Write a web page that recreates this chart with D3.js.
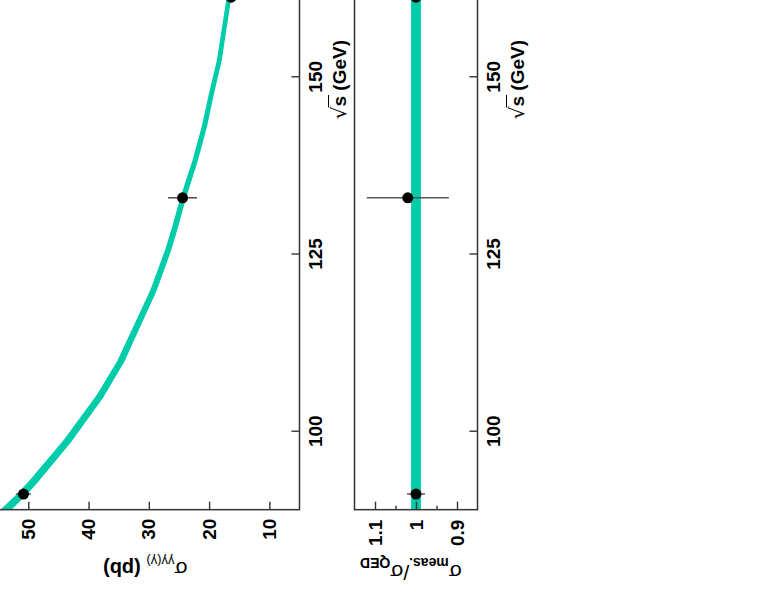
<!DOCTYPE html>
<html><head><meta charset="utf-8">
<script src="https://cdn.jsdelivr.net/npm/d3@7"></script>
<style>html,body{margin:0;padding:0;background:#fff;overflow:hidden}svg{display:block}</style>
</head><body>
<svg id="c" width="765" height="592"></svg>
<script>
// ---- data ----
const energies   = [91.2, 133, 161.3];
const sigmaMeas  = [50.8, 24.4, 16.35];
const sigmaErr   = [1.25, 2.4, 1.0];
const ratioMeas  = [1.0, 1.02, 1.0];
const ratioErr   = [0.022, 0.10, 0.06];
const curveE     = [89, 91.2, 93.2, 98.8, 105, 110, 115, 120, 125.6, 129, 133, 138.3, 143, 147.7, 152.4, 161.3];
const curveSigma = [53.7, 51.0, 48.9, 43.4, 38.1, 34.6, 31.9, 29.2, 26.8, 25.6, 24.3, 22.3, 20.8, 19.6, 18.3, 16.7];
const bandRel    = 0.012;
const sqrtsTicks = [100, 125, 150];
const sigmaTicks = [10, 20, 30, 40, 50];
const ratioTicks = [0.9, 1, 1.1];
const ratioMinor = [0.95, 1.05];
const ratioTickLabels = ["0.9", "1", "1.1"];

// ---- layout (chart drawn upright, then rotated -90deg) ----
const W = 592; // unrotated width (= page height)
const svg = d3.select("#c");
svg.append("rect").attr("width",765).attr("height",592).attr("fill","#fff");
const root = svg.append("g").attr("transform", `translate(0,${W}) rotate(-90)`);

const x = d3.scaleLinear().domain([100,150]).range([160.3,514.7]);
const yTop = d3.scaleLinear().domain([5,55]).range([299.5,-1.85]);
const yRat = d3.scaleLinear().domain([0.85,1.15]).range([477.5,354.5]);
const xMin = 89, xMax = 175;
const FONT = "'Liberation Sans', Arial, Helvetica, sans-serif";
const AX = "#333";
const BAND = "#00CCAA";

const defs = root.append("defs");
defs.append("clipPath").attr("id","clipTop").append("rect")
  .attr("x", x(xMin)).attr("y", yTop(55)).attr("width", x(xMax)-x(xMin)).attr("height", yTop(5)-yTop(55));
defs.append("clipPath").attr("id","clipRat").append("rect")
  .attr("x", x(xMin)).attr("y", yRat(1.15)).attr("width", x(xMax)-x(xMin)).attr("height", yRat(0.85)-yRat(1.15));

// ---- top panel ----
const topG = root.append("g");
const curve = curveE.map((e,i)=>({e, s: curveSigma[i]}));
topG.append("path").datum(curve).attr("clip-path","url(#clipTop)")
  .attr("fill", BAND).attr("stroke", BAND).attr("stroke-width", 2.2).attr("stroke-linejoin","round")
  .attr("d", d3.area().x(d=>x(d.e)).y0(d=>yTop(d.s*(1-bandRel))).y1(d=>yTop(d.s*(1+bandRel))));

const pts = energies.map((e,i)=>({e, s: sigmaMeas[i], se: sigmaErr[i], r: ratioMeas[i], re: ratioErr[i]}));
const tp = topG.append("g").attr("clip-path","url(#clipTop)");
tp.selectAll("line").data(pts).join("line")
  .attr("x1", d=>x(d.e)).attr("x2", d=>x(d.e))
  .attr("y1", d=>yTop(d.s-d.se)).attr("y2", d=>yTop(d.s+d.se))
  .attr("stroke","#555").attr("stroke-width",1.6);
tp.selectAll("circle").data(pts).join("circle")
  .attr("cx", d=>x(d.e)).attr("cy", d=>yTop(d.s)).attr("r",5.5).attr("fill","#000");

topG.append("rect").attr("x", x(xMin)).attr("y", yTop(55)).attr("width", x(xMax)-x(xMin)).attr("height", yTop(5)-yTop(55))
  .attr("fill","none").attr("stroke",AX).attr("stroke-width",1.5);

function styleAxis(g){
  g.select(".domain").remove();
  g.selectAll(".tick line").attr("stroke",AX).attr("stroke-width",1.4);
  g.selectAll(".tick text").attr("font-family",FONT).attr("font-weight","bold").attr("font-size",19).attr("fill","#000");
}
topG.append("g").attr("transform",`translate(0,${yTop(5)})`)
  .call(d3.axisBottom(x).tickValues(sqrtsTicks).tickSizeInner(-8).tickSizeOuter(0).tickPadding(9).tickFormat(d3.format("d")))
  .call(styleAxis);
topG.append("g").attr("transform",`translate(${x(xMin)},0)`)
  .call(d3.axisLeft(yTop).tickValues(sigmaTicks).tickSizeInner(-8).tickSizeOuter(0).tickPadding(9).tickFormat(d3.format("d")))
  .call(styleAxis);

// ---- ratio panel ----
const ratG = root.append("g");
const flat = curveE.map(e=>({e}));
ratG.append("path").datum(flat).attr("clip-path","url(#clipRat)").attr("fill",BAND)
  .attr("d", d3.area().x(d=>x(d.e)).y0(()=>yRat(1-bandRel)).y1(()=>yRat(1+bandRel)));
const rp = ratG.append("g").attr("clip-path","url(#clipRat)");
rp.selectAll("line").data(pts).join("line")
  .attr("x1", d=>x(d.e)).attr("x2", d=>x(d.e))
  .attr("y1", d=>yRat(d.r-d.re)).attr("y2", d=>yRat(d.r+d.re))
  .attr("stroke","#555").attr("stroke-width",1.6);
rp.selectAll("circle").data(pts).join("circle")
  .attr("cx", d=>x(d.e)).attr("cy", d=>yRat(d.r)).attr("r",5.5).attr("fill","#000");
ratG.append("rect").attr("x", x(xMin)).attr("y", yRat(1.15)).attr("width", x(xMax)-x(xMin)).attr("height", yRat(0.85)-yRat(1.15))
  .attr("fill","none").attr("stroke",AX).attr("stroke-width",1.5);
ratG.append("g").attr("transform",`translate(0,${yRat(0.85)})`)
  .call(d3.axisBottom(x).tickValues(sqrtsTicks).tickSizeInner(-8).tickSizeOuter(0).tickPadding(9).tickFormat(d3.format("d")))
  .call(styleAxis);
ratG.append("g").attr("transform",`translate(${x(xMin)},0)`)
  .call(d3.axisLeft(yRat).tickValues(ratioTicks).tickSizeInner(-8).tickSizeOuter(0).tickPadding(10).tickFormat((d,i)=>ratioTickLabels[i]))
  .call(styleAxis);
ratG.append("g").attr("transform",`translate(${x(xMin)},0)`)
  .call(d3.axisLeft(yRat).tickValues(ratioMinor).tickSizeInner(-4).tickSizeOuter(0).tickFormat(""))
  .call(styleAxis);

// ---- axis titles ----
function xTitle(g, yBase){
  const t = g.append("text").attr("x", 552).attr("y", yBase).attr("text-anchor","end")
    .attr("font-family",FONT).attr("font-size",19).attr("fill","#000");
  t.append("tspan").attr("font-weight","normal").attr("font-family","'DejaVu Sans', sans-serif").attr("font-size",20).text("\u221A");
  t.append("tspan").attr("font-weight","bold").text("s (GeV)");
  const s0 = t.node().getStartPositionOfChar(1), s1 = t.node().getEndPositionOfChar(1);
  g.append("line").attr("x1", s0.x-1).attr("x2", s1.x+1).attr("y1", yBase-17.5).attr("y2", yBase-17.5)
    .attr("stroke","#000").attr("stroke-width",1);
}
xTitle(topG, 346);
xTitle(ratG, 524);

const yt = root.append("text").attr("transform","translate(30,103) rotate(-90)").attr("text-anchor","end")
  .attr("font-family",FONT).attr("font-size",20).attr("fill","#000");
yt.append("tspan").attr("font-size",21).text("\u03C3");
yt.append("tspan").attr("font-size",13).attr("dy",5).text("\u03B3\u03B3(\u03B3)");
yt.append("tspan").attr("font-weight","bold").attr("dy",-5).text(" (pb)");

const rt = root.append("text").attr("transform","translate(27,360) rotate(-90)").attr("text-anchor","end")
  .attr("font-family",FONT).attr("font-size",20).attr("fill","#000");
rt.append("tspan").attr("font-size",21).text("\u03C3");
rt.append("tspan").attr("font-size",14).attr("font-weight","bold").attr("dy",7).text("meas.");
rt.append("tspan").attr("font-size",21).attr("dy",-7).text("/\u03C3");
rt.append("tspan").attr("font-size",14).attr("font-weight","bold").attr("dy",7).text("QED");
</script>
</body></html>
